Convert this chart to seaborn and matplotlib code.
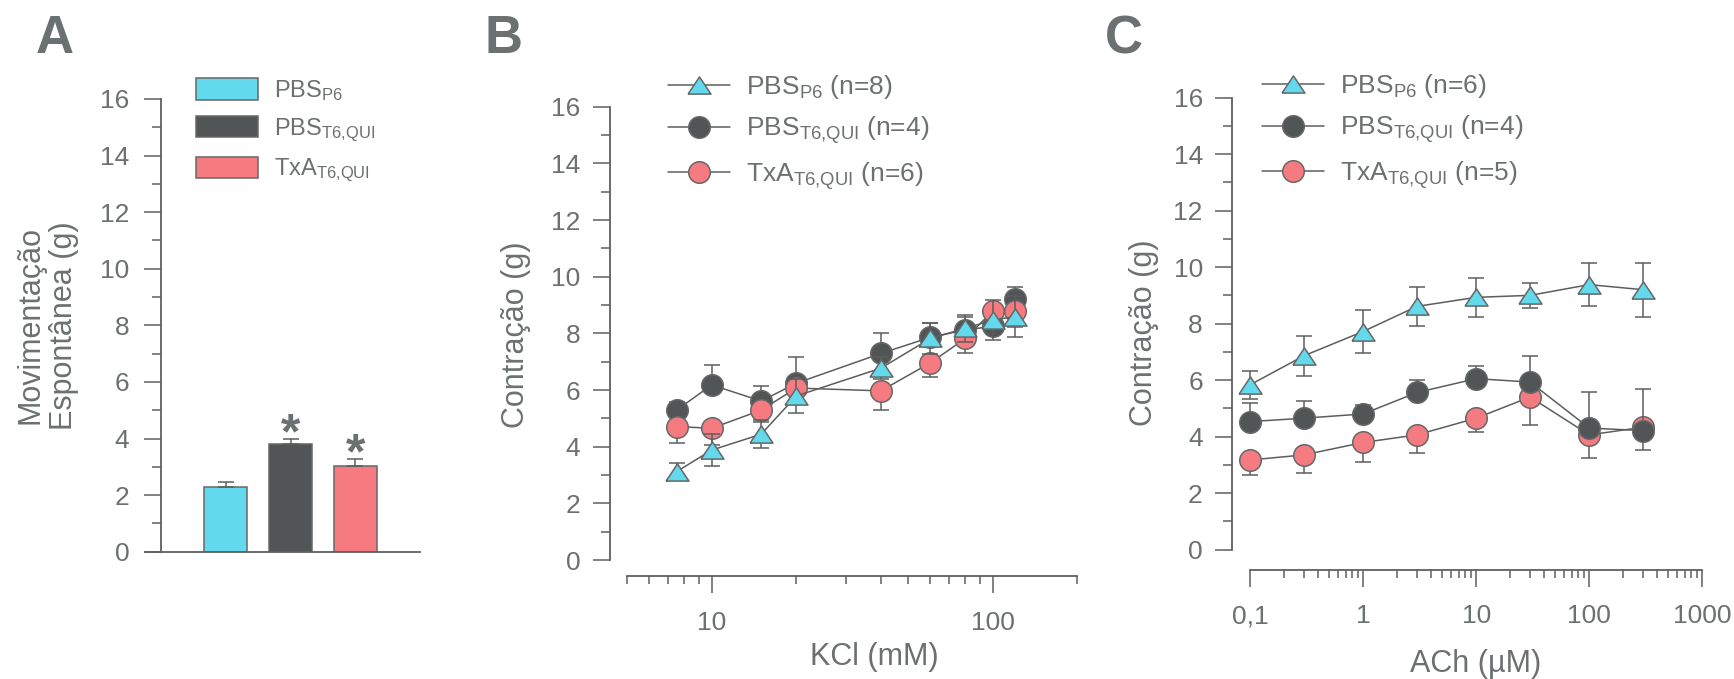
import numpy as np
import matplotlib
matplotlib.use("Agg")
import matplotlib.pyplot as plt
import seaborn as sns
from matplotlib.patches import Patch
from matplotlib.lines import Line2D
from matplotlib.ticker import FixedLocator, FixedFormatter, NullFormatter

# ---------------- data ----------------
# A: spontaneous movement (mean + SEM)
groups_a = ["PBS P6", "PBS T6,QUI", "TxA T6,QUI"]
mov_mean = [2.30, 3.82, 3.04]
mov_sem = [0.15, 0.18, 0.25]

# B: KCl concentration-response
kcl_mM = [7.5, 10, 15, 20, 40, 60, 80, 100, 120]
kcl_pbs_p6 = [3.12, 3.88, 4.44, 5.79, 6.77, 7.82, 8.18, 8.47, 8.59]
kcl_pbs_p6_sem = [0.30, 0.55, 0.50, 0.60, 0.38, 0.54, 0.47, 0.72, 0.73]
kcl_pbs_t6 = [5.29, 6.18, 5.61, 6.24, 7.29, 7.86, 8.12, 8.25, 9.20]
kcl_pbs_t6_sem = [0.30, 0.70, 0.54, 0.94, 0.73, 0.49, 0.45, 0.40, 0.45]
kcl_txa_t6 = [4.71, 4.65, 5.29, 6.07, 5.97, 6.96, 7.82, 8.79, 8.79]
kcl_txa_t6_sem = [0.59, 0.59, 0.41, 0.50, 0.68, 0.49, 0.50, 0.50, 0.58]

# C: ACh concentration-response
ach_uM = [0.1, 0.3, 1, 3, 10, 30, 100, 300]
ach_pbs_p6 = [5.83, 6.86, 7.72, 8.61, 8.93, 9.00, 9.38, 9.20]
ach_pbs_p6_sem = [0.50, 0.70, 0.77, 0.70, 0.70, 0.45, 0.75, 0.95]
ach_pbs_t6 = [4.53, 4.65, 4.80, 5.56, 6.05, 5.93, 4.30, 4.21]
ach_pbs_t6_sem = [0.65, 0.62, 0.30, 0.43, 0.46, 0.94, 1.26, 1.47]
ach_txa_t6 = [3.17, 3.35, 3.79, 4.06, 4.65, 5.40, 4.06, 4.33]
ach_txa_t6_sem = [0.53, 0.63, 0.68, 0.65, 0.49, 0.99, 0.83, 0.80]

legend_a = [r"$\mathregular{PBS_{P6}}$", r"$\mathregular{PBS_{T6{,}QUI}}$",
            r"$\mathregular{TxA_{T6{,}QUI}}$"]
legend_b = [r"$\mathregular{PBS_{P6}}$ (n=8)", r"$\mathregular{PBS_{T6{,}QUI}}$ (n=4)",
            r"$\mathregular{TxA_{T6{,}QUI}}$ (n=6)"]
legend_c = [r"$\mathregular{PBS_{P6}}$ (n=6)", r"$\mathregular{PBS_{T6{,}QUI}}$ (n=4)",
            r"$\mathregular{TxA_{T6{,}QUI}}$ (n=5)"]

# ---------------- style ----------------
CYAN = "#62d9ec"
DARK = "#515555"
PINK = "#f67b81"
EDGE = "#666868"
LINE = "#5c5e5e"
TEXT = "#6c7070"
AXIS = "#5e6060"

sns.set_theme(style="white")
plt.rcParams["font.family"] = ["Liberation Sans", "DejaVu Sans"]
plt.rcParams["mathtext.fontset"] = "custom"
plt.rcParams["mathtext.rm"] = "Liberation Sans"
plt.rcParams["mathtext.it"] = "Liberation Sans:italic"
plt.rcParams["mathtext.bf"] = "Liberation Sans:bold"
plt.rcParams["text.color"] = TEXT
plt.rcParams["axes.labelcolor"] = TEXT
plt.rcParams["xtick.color"] = AXIS
plt.rcParams["ytick.color"] = AXIS
plt.rcParams["xtick.labelcolor"] = TEXT
plt.rcParams["ytick.labelcolor"] = TEXT
plt.rcParams["axes.edgecolor"] = AXIS

TRI = [(-1, -0.75), (1, -0.75), (0, 0.75), (-1, -0.75)]
MS_CIRC = 15.5
MS_TRI = 16.5
TICK_FS = 19
LABEL_FS = 22

W, H = 1734, 679
fig = plt.figure(figsize=(W / 100, H / 100), dpi=100)


def box(l, r, t, b):
    return [l / W, 1 - b / H, (r - l) / W, (b - t) / H]


axA = fig.add_axes(box(145, 420, 99, 551.7))
axB = fig.add_axes(box(610, 1077.3, 106.7, 560))
axC = fig.add_axes(box(1232, 1702.3, 97.7, 549.5))


def style_y(ax, pad):
    ax.set_ylim(0, 16)
    ax.yaxis.set_major_locator(FixedLocator(np.arange(0, 17, 2)))
    ax.yaxis.set_minor_locator(FixedLocator(np.arange(1, 16, 2)))
    ax.yaxis.set_minor_formatter(NullFormatter())
    ax.tick_params(axis="y", which="major", direction="out", length=12, width=1.1,
                   labelsize=TICK_FS, pad=pad, left=True)
    ax.tick_params(axis="y", which="minor", direction="out", length=6.5, width=1.1, left=True)
    for s in ("top", "right"):
        ax.spines[s].set_visible(False)
    for s in ("left", "bottom"):
        ax.spines[s].set_linewidth(1.3)
        ax.spines[s].set_color(AXIS)


# ---------------- A ----------------
sns.barplot(x=groups_a, y=mov_mean, hue=groups_a,
            palette=dict(zip(groups_a, [CYAN, DARK, PINK])),
            order=groups_a, hue_order=groups_a, width=0.667, saturation=1,
            errorbar=None, edgecolor=EDGE, linewidth=1.1, legend=False, ax=axA)
axA.errorbar(np.arange(3), mov_mean, yerr=[np.zeros(3), mov_sem], fmt="none",
             ecolor=LINE, elinewidth=1.1, capsize=5.5, capthick=1.1, zorder=1)
for i, (m, s) in enumerate(zip(mov_mean, mov_sem)):
    if i > 0:
        axA.text(i, m + s - 0.33, "*", ha="center", va="baseline", fontsize=36,
                 fontweight="bold", color=TEXT)
axA.set_xlim(-1.25, 3.0)
style_y(axA, 11)
axA.spines["left"].set_position(("data", -1.0))
axA.set_xticks([])
axA.set_xlabel("")
axA.set_ylabel("Movimentação\nEspontânea (g)", fontsize=LABEL_FS, linespacing=1.15)
axA.yaxis.label.set_va("center")
axA.yaxis.set_label_coords(-0.355, 0.5)
handles_a = [Patch(facecolor=c, edgecolor=EDGE, linewidth=1.1) for c in (CYAN, DARK, PINK)]
axA.legend(handles_a, legend_a, loc="upper left", bbox_to_anchor=(196 / W, 1 - 78 / H),
           bbox_transform=fig.transFigure, frameon=False, fontsize=17,
           handlelength=2.63, handleheight=1.02, handletextpad=0.66,
           labelspacing=0.55, borderpad=0, borderaxespad=0)


# ---------------- B and C ----------------
def curve(ax, x, y, e, marker, ms, face, z, both=False, down=False):
    x = np.asarray(x)
    y = np.asarray(y)
    e = np.asarray(e)
    lo = e if (both or down) else np.zeros_like(e)
    hi = e if (both or not down) else np.zeros_like(e)
    ax.errorbar(x, y, yerr=[lo, hi], fmt="none", ecolor=LINE, elinewidth=1.1,
                capsize=6, capthick=1.1, zorder=z)
    sns.lineplot(x=x, y=y, ax=ax, color=LINE, linewidth=1.1, marker=marker,
                 markersize=ms, markerfacecolor=face, markeredgecolor=EDGE,
                 markeredgewidth=1.1, zorder=z + 0.05, estimator=None, sort=True)


def style_log_x(ax, lo, hi, bounds, major, labels, minor, outward, pad):
    ax.set_xscale("log")
    ax.set_xlim(lo, hi)
    ax.spines["bottom"].set_bounds(*bounds)
    ax.spines["bottom"].set_position(("outward", outward))
    ax.xaxis.set_major_locator(FixedLocator(major))
    ax.xaxis.set_major_formatter(FixedFormatter(labels))
    ax.xaxis.set_minor_locator(FixedLocator(minor))
    ax.xaxis.set_minor_formatter(NullFormatter())
    ax.tick_params(axis="x", which="major", direction="out", length=12, width=1.1,
                   labelsize=TICK_FS, pad=pad, bottom=True)
    ax.tick_params(axis="x", which="minor", direction="out", length=5.5, width=1.1,
                   bottom=True)


def add_legend(ax, labels, x0, y0):
    hs = [Line2D([], [], color=LINE, lw=1.1, marker=TRI, ms=MS_TRI, mfc=CYAN, mec=EDGE, mew=1.1),
          Line2D([], [], color=LINE, lw=1.1, marker="o", ms=MS_CIRC, mfc=DARK, mec=EDGE, mew=1.1),
          Line2D([], [], color=LINE, lw=1.1, marker="o", ms=MS_CIRC, mfc=PINK, mec=EDGE, mew=1.1)]
    ax.legend(hs, labels, loc="upper left", bbox_to_anchor=(x0 / W, 1 - y0 / H),
              bbox_transform=fig.transFigure, frameon=False, fontsize=19,
              handlelength=2.35, handletextpad=0.6, labelspacing=0.52,
              borderpad=0, borderaxespad=0)


# B: red drawn over dark
curve(axB, kcl_mM, kcl_pbs_t6, kcl_pbs_t6_sem, "o", MS_CIRC, DARK, 2.0)
curve(axB, kcl_mM, kcl_txa_t6, kcl_txa_t6_sem, "o", MS_CIRC, PINK, 2.2, down=True)
curve(axB, kcl_mM, kcl_pbs_p6, kcl_pbs_p6_sem, TRI, MS_TRI, CYAN, 2.4, both=True)
style_y(axB, 9.5)
style_log_x(axB, 4.345, 200, (5, 200), [10, 100], ["10", "100"],
            [5, 6, 7, 8, 9, 20, 30, 40, 50, 60, 70, 80, 90, 200], 11.5, 13.5)
axB.set_ylabel("Contração (g)", fontsize=LABEL_FS)
axB.yaxis.label.set_va("center")
axB.yaxis.set_label_coords(-0.202, 0.496)
axB.set_xlabel("KCl (mM)", fontsize=LABEL_FS)
axB.xaxis.label.set_va("center")
axB.xaxis.set_label_coords(0.566, -0.214)
add_legend(axB, legend_b, 667.7, 73)

# C: dark drawn over red
curve(axC, ach_uM, ach_txa_t6, ach_txa_t6_sem, "o", MS_CIRC, PINK, 2.0, down=True)
curve(axC, ach_uM, ach_pbs_t6, ach_pbs_t6_sem, "o", MS_CIRC, DARK, 2.2)
curve(axC, ach_uM, ach_pbs_p6, ach_pbs_p6_sem, TRI, MS_TRI, CYAN, 2.4, both=True)
style_y(axC, 9)
minor_c = [m * d for d in (0.1, 1, 10, 100) for m in range(2, 10)]
style_log_x(axC, 0.0693, 1000, (0.1, 1000), [0.1, 1, 10, 100, 1000],
            ["0,1", "1", "10", "100", "1000"], minor_c, 14.8, 12.5)
axC.set_ylabel("Contração (g)", fontsize=LABEL_FS)
axC.yaxis.label.set_va("center")
axC.yaxis.set_label_coords(-0.187, 0.48)
axC.set_xlabel("ACh (µM)", fontsize=LABEL_FS)
axC.xaxis.label.set_va("center")
axC.xaxis.set_label_coords(0.518, -0.253)
add_legend(axC, legend_c, 1262, 72)

# panel letters
for letter, x in (("A", 36), ("B", 485), ("C", 1105)):
    fig.text(x / W, 1 - 53 / H, letter, fontsize=38, fontweight="bold",
             color="#6b7070", ha="left", va="baseline")

fig.savefig("out.png", dpi=100)
